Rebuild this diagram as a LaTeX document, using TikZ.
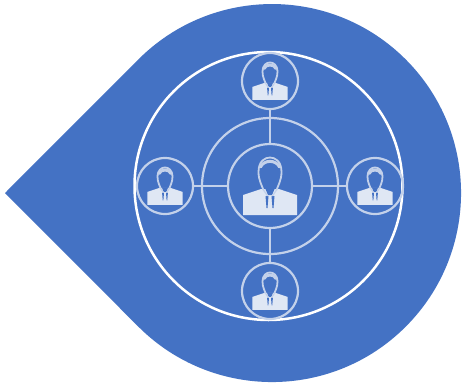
\documentclass[tikz,border=0pt]{standalone}
\definecolor{shapeblue}{HTML}{4472C4}
\definecolor{softline}{HTML}{C3D1EA}
\definecolor{bodyfill}{HTML}{DFE7F4}
\tikzset{
  x=1pt,y=-1pt,
  hub/.style={circle,draw=softline,line width=2.2pt,minimum size=#1,inner sep=0pt,outer sep=0pt},
  link/.style={draw=softline,line width=2pt},
  person/.pic={
    \fill[bodyfill] (-27,29) -- (-27,9) -- (-9,3) -- (9,3) -- (27,9) -- (27,29) -- cycle;
    \fill[shapeblue] (-5,2) -- (-2,9) -- (2,9) -- (5,2) -- cycle;
    \fill[shapeblue] (-4.5,10) -- (-1.5,10) -- (-2.5,22) -- (-3.5,22) -- cycle;
    \fill[shapeblue] (4.5,10) -- (1.5,10) -- (2.5,22) -- (3.5,22) -- cycle;
    \draw[softline,line width=1.8pt,line join=round]
      (-6.5,4) .. controls (-8,0) and (-11.5,-6) .. (-11.5,-14)
      .. controls (-11.5,-25) and (-5,-28.5) .. (0,-28.5)
      .. controls (5,-28.5) and (11.5,-25) .. (11.5,-14)
      .. controls (11.5,-6) and (8,0) .. (6.5,4);
    \draw[softline,line width=3pt,line cap=round]
      (-9.5,-19) .. controls (-6,-26.5) and (6,-26.5) .. (9.5,-19);
    \draw[softline,line width=1.2pt] (-6.5,4) -- (-2.5,10) (6.5,4) -- (2.5,10);
  }
}
\begin{document}
\begin{tikzpicture}
\useasboundingbox (0,0) rectangle (464,386);
\fill[white] (0,0) rectangle (464,386);
\coordinate (tip) at (5,193);
\fill[shapeblue] (tip) -- (138.4,59.4) arc[start angle=135,delta angle=-270,radius=189pt] -- cycle;
\node[circle,draw=white,line width=2.5pt,minimum size=268pt,inner sep=0pt] (outer) at (268.5,186) {};
\node[hub=136pt] (ring) at (270,186) {};
\node[hub=84pt] (center) at (270,186) {};
\node[hub=56pt] (top) at (270,81) {};
\node[hub=56pt] (bottom) at (270,291) {};
\node[hub=56pt] (left) at (165,186) {};
\node[hub=56pt] (right) at (375,186) {};
\draw[link] (center) -- (top);
\draw[link] (center) -- (bottom);
\draw[link] (center) -- (left);
\draw[link] (center) -- (right);
\pic at (270,186) {person};
\pic[scale=.65,transform shape] at (270,81) {person};
\pic[scale=.65,transform shape] at (270,291) {person};
\pic[scale=.65,transform shape] at (165,186) {person};
\pic[scale=.65,transform shape] at (375,186) {person};
\end{tikzpicture}
\end{document}
